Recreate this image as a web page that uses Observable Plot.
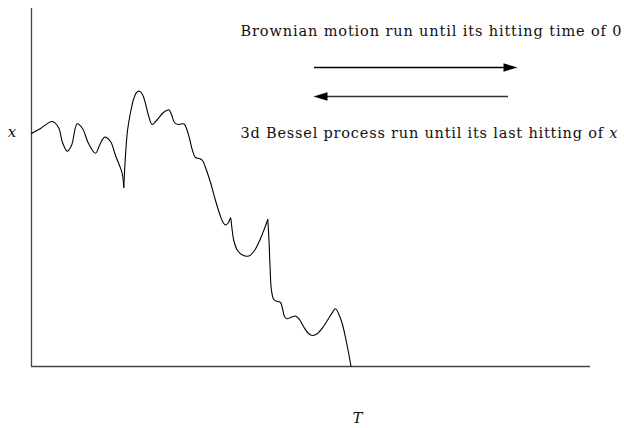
<!DOCTYPE html>
<html>
<head>
<meta charset="utf-8">
<script src="https://cdn.jsdelivr.net/npm/d3@7"></script>
<script src="https://cdn.jsdelivr.net/npm/@observablehq/plot@0.6"></script>
<style>
  html, body { margin: 0; padding: 0; background: #fff; }
  #chart { width: 624px; height: 428px; }
</style>
</head>
<body>
<div id="chart"></div>
<script>
// Path of the process, in three pieces (split at the cusps)
const seg1T = [0, 9, 20.7, 27, 31, 35.7, 40, 45.7, 51, 57, 64, 68, 73, 79, 84, 88, 90.7, 92.3];
const seg1B = [233, 238, 245, 239, 224, 215.3, 221, 242.7, 238, 223, 213.3, 221, 229.3, 225, 211, 201, 193, 179.3];

const seg2T = [92.3, 94, 96, 99, 102.3, 105, 108, 111, 114, 117, 120.7, 125, 132, 137.3, 140, 143, 147, 152.3, 155, 158, 161, 164, 168, 171, 174, 179, 184, 188, 191, 194, 197, 199, 200, 202.3, 206, 211, 217.3, 223, 229, 233, 236.3];
const seg2B = [179.3, 211, 236, 254, 268, 274, 275.3, 272, 263, 251, 242, 246, 254, 256.7, 252, 244, 242, 242.7, 238, 228, 216, 209, 208, 206, 199, 184, 166, 153, 145, 141.5, 144, 148.7, 142, 126, 116, 111.5, 110.5, 116, 128, 138, 147];

const seg3T = [236.3, 237.5, 238.5, 240, 242.3, 246, 249, 251, 253, 255.7, 259, 264, 268, 272, 277, 281.3, 286, 292, 299, 304, 307, 310.7, 314, 317, 319.5];
const seg3B = [147, 126, 101, 76, 67, 65, 64, 58, 50, 47.7, 49, 50.5, 47, 40, 33, 31, 33, 40, 51, 57.7, 53, 43, 29, 14, 0];

// Annotation labels
const topLabel = "Brownian motion run until its hitting time of 0";
const bottomLabel = "3d Bessel process run until its last hitting of x";
const yLabel = "x";
const xLabel = "T";

const path = [
  ...seg1T.map((t, i) => ({t, b: seg1B[i], seg: "a"})),
  ...seg2T.map((t, i) => ({t, b: seg2B[i], seg: "b"})),
  ...seg3T.map((t, i) => ({t, b: seg3B[i], seg: "c"}))
];

const headRight = {draw(ctx) { ctx.moveTo(7, 0); ctx.lineTo(-7, -4.2); ctx.lineTo(-7, 4.2); ctx.closePath(); }};
const headLeft  = {draw(ctx) { ctx.moveTo(-7, 0); ctx.lineTo(7, -4.2); ctx.lineTo(7, 4.2); ctx.closePath(); }};

const serif = "DejaVu Serif";

const svg = Plot.plot({
  width: 624,
  height: 428,
  marginLeft: 31,
  marginRight: 34,
  marginTop: 8,
  marginBottom: 62,
  x: {domain: [0, 559], axis: null},
  y: {domain: [0, 358], axis: null},
  style: {background: "#fff"},
  marks: [
    Plot.ruleY([0], {stroke: "#444", strokeWidth: 1.3}),
    Plot.ruleX([0], {stroke: "#444", strokeWidth: 1.3}),
    Plot.line(path, {x: "t", y: "b", z: "seg", curve: "catmull-rom", stroke: "#000", strokeWidth: 1.1}),
    // arrows
    Plot.ruleY([299], {x1: 283, x2: 474, stroke: "#000", strokeWidth: 1.5}),
    Plot.dot([{t: 479, b: 299}], {x: "t", y: "b", symbol: headRight, fill: "#000", stroke: "none"}),
    Plot.ruleY([270], {x1: 294, x2: 477, stroke: "#333", strokeWidth: 1.5}),
    Plot.dot([{t: 289, b: 270}], {x: "t", y: "b", symbol: headLeft, fill: "#000", stroke: "none"}),
    // labels
    Plot.text([topLabel], {x: 209, y: 335, text: d => d, textAnchor: "start", fontFamily: serif, fontSize: 14.5, fill: "#111"}),
    Plot.text([bottomLabel], {x: 209, y: 233, text: d => d, textAnchor: "start", fontFamily: serif, fontSize: 14.5, fill: "#111"}),
    Plot.text([yLabel], {x: -19.5, y: 234, text: d => d, fontFamily: serif, fontSize: 15, fontStyle: "italic", fill: "#111"}),
    Plot.text([xLabel], {x: 326, y: -52, text: d => d, fontFamily: serif, fontSize: 15, fontStyle: "italic", fill: "#111"})
  ]
});

// fit labels to the reference width and set the italic x
d3.select(svg).selectAll("text")
  .filter(function() { return this.textContent === topLabel; })
  .attr("textLength", 381).attr("lengthAdjust", "spacing");
d3.select(svg).selectAll("text")
  .filter(function() { return this.textContent === bottomLabel; })
  .each(function() {
    const el = d3.select(this);
    el.text("");
    el.append("tspan").text(bottomLabel.slice(0, -1));
    el.append("tspan").attr("font-style", "italic").text(bottomLabel.slice(-1));
    el.attr("textLength", 377).attr("lengthAdjust", "spacing");
  });

document.getElementById("chart").appendChild(svg);
</script>
</body>
</html>
